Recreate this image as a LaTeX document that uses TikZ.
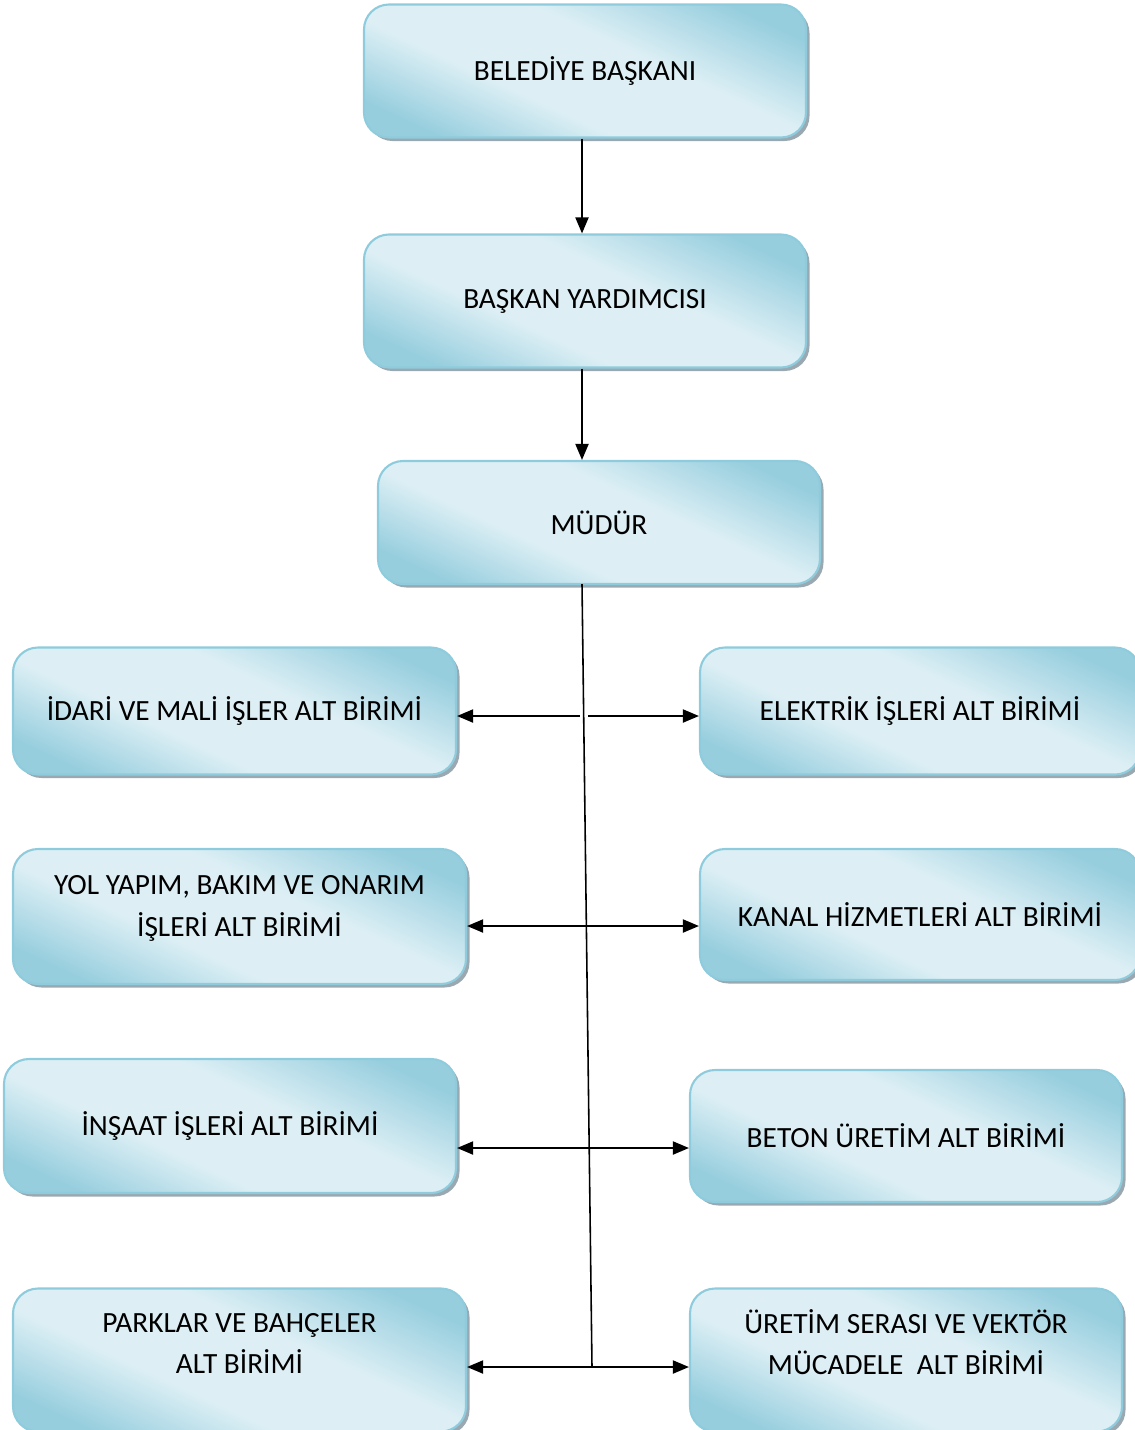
\documentclass[tikz,border=0pt]{standalone}
\usepackage{fontspec}
\setmainfont{Carlito}
\usepackage{tikz}
\usetikzlibrary{shapes}
\usetikzlibrary{arrows.meta}
\usetikzlibrary{positioning}
\usetikzlibrary{calc}
\usetikzlibrary{shadings, shadows}
\definecolor{kutumavi}{HTML}{97CEDE}
\definecolor{kutuacik}{HTML}{DDEFF5}
\definecolor{kutukenar}{HTML}{8ECCDD}
\definecolor{golge}{HTML}{8E9FA8}
\pgfdeclareverticalshading{kutuisik}{100bp}{color(0bp)=(kutumavi); color(24bp)=(kutumavi); color(40bp)=(kutuacik); color(58bp)=(kutuacik); color(76bp)=(kutumavi); color(100bp)=(kutumavi)}
\tikzstyle{kutu}=[
        rectangle,
        draw=kutukenar,
        line width=1.2pt,
        rounded corners=0.5cm,
        shading=kutuisik,
        shading angle=-25,
        drop shadow={shadow xshift=0.07cm,shadow yshift=-0.07cm,fill=golge,opacity=0.9},
        align=center,
        font=\fontsize{16.7}{23.5}\selectfont,
        text=black
]
\tikzstyle{ok}=[-{Triangle[length=3.2mm,width=2.6mm]},line width=1.1pt]
\tikzstyle{ciftok}=[{Triangle[length=3.2mm,width=2.6mm]}-{Triangle[length=3.2mm,width=2.6mm]},line width=1.1pt]
\tikzstyle{govde}=[line width=0.9pt]

\begin{document}
\begin{tikzpicture}
\useasboundingbox (0,0) rectangle (22.7,-28.6);
\node[kutu,minimum width=8.84cm,minimum height=2.66cm] (baskan) at (11.70,-1.42) {BELEDİYE BAŞKANI};
\node[kutu,minimum width=8.84cm,minimum height=2.66cm] (yardimci) at (11.70,-6.02) {BAŞKAN YARDIMCISI};
\node[kutu,minimum width=8.84cm,minimum height=2.46cm] (mudur) at (11.98,-10.45) {MÜDÜR};
\node[kutu,minimum width=8.86cm,minimum height=2.54cm] (idari) at (4.69,-14.22) {İDARİ VE MALİ İŞLER ALT BİRİMİ};
\node[kutu,minimum width=8.80cm,minimum height=2.54cm] (elektrik) at (18.40,-14.22) {ELEKTRİK İŞLERİ ALT BİRİMİ};
\node[kutu,minimum width=9.06cm,minimum height=2.70cm,text depth=0.42cm] (yol) at (4.79,-18.33) {YOL YAPIM, BAKIM VE ONARIM\\İŞLERİ ALT BİRİMİ};
\node[kutu,minimum width=8.80cm,minimum height=2.62cm] (kanal) at (18.40,-18.29) {KANAL HİZMETLERİ ALT BİRİMİ};
\node[kutu,minimum width=9.04cm,minimum height=2.68cm] (insaat) at (4.60,-22.52) {İNŞAAT İŞLERİ ALT BİRİMİ};
\node[kutu,minimum width=8.64cm,minimum height=2.64cm] (beton) at (18.12,-22.72) {BETON ÜRETİM ALT BİRİMİ};
\node[kutu,minimum width=9.06cm,minimum height=2.86cm,text depth=0.66cm] (parklar) at (4.79,-27.20) {PARKLAR VE BAHÇELER\\ALT BİRİMİ};
\node[kutu,minimum width=8.64cm,minimum height=2.86cm,text depth=0.72cm] (uretim) at (18.12,-27.20) {ÜRETİM SERASI VE VEKTÖR\\MÜCADELE\ \ ALT BİRİMİ};
%ana gövde
\coordinate (g0) at (11.64,-11.68);
\coordinate (g1) at (11.60,-14.32);
\coordinate (g2) at (11.70,-18.52);
\coordinate (g3) at (11.76,-22.96);
\coordinate (g4) at (11.84,-27.34);
\draw[ok] (baskan.south -| g0) -- (yardimci.north -| g0);
\draw[ok] (yardimci.south -| g0) -- (mudur.north -| g0);
\draw[govde] (g0) -- (g4);
%yan oklar
\draw[ok] (g1) -- (g1 -| idari.east);
\draw[ok] ([xshift=0.16cm]g1) -- (g1 -| elektrik.west);
\draw[ciftok] (g2 -| yol.east) -- (g2 -| kanal.west);
\draw[ciftok] (g3 -| insaat.east) -- (g3 -| beton.west);
\draw[ciftok] (g4 -| parklar.east) -- (g4 -| uretim.west);
\end{tikzpicture}
\end{document}
